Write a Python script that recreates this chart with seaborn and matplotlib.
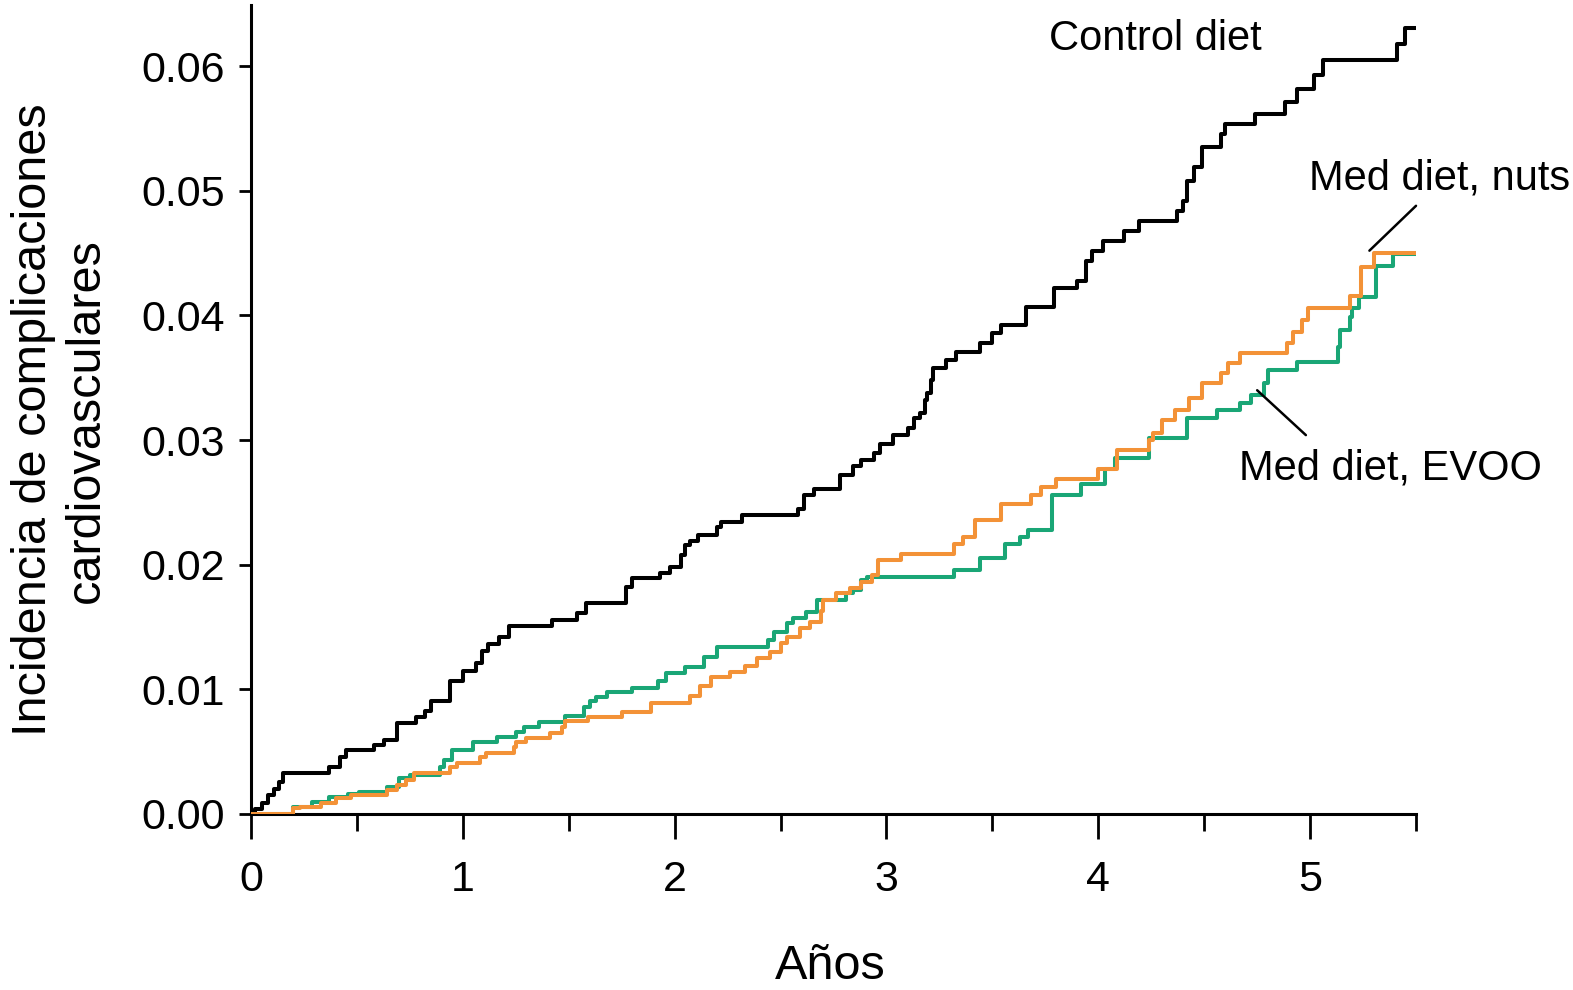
import pandas as pd
import matplotlib
matplotlib.use("Agg")
import matplotlib.pyplot as plt
from matplotlib.ticker import FixedLocator
import seaborn as sns

# step curves (time in years, cumulative incidence)
control_t = [0, 0.02, 0.05, 0.08, 0.11, 0.13, 0.15, 0.37, 0.42, 0.45, 0.58, 0.63, 0.69, 0.78,
             0.82, 0.85, 0.94, 1.00, 1.06, 1.09, 1.12, 1.17, 1.22, 1.42, 1.54, 1.58, 1.77, 1.80,
             1.93, 1.98, 2.03, 2.05, 2.07, 2.11, 2.20, 2.22, 2.32, 2.58, 2.61, 2.66, 2.78, 2.84,
             2.88, 2.94, 2.97, 3.03, 3.10, 3.13, 3.16, 3.18, 3.19, 3.21, 3.22, 3.28, 3.33, 3.44,
             3.50, 3.54, 3.66, 3.79, 3.90, 3.94, 3.97, 4.02, 4.12, 4.19, 4.37, 4.40, 4.42, 4.45,
             4.49, 4.58, 4.60, 4.74, 4.88, 4.94, 5.02, 5.06, 5.41, 5.45, 5.5]
control_v = [0, 0.0004, 0.0009, 0.0015, 0.0020, 0.0026, 0.0033, 0.0038, 0.0046, 0.0051, 0.0055,
             0.0059, 0.0073, 0.0078, 0.0083, 0.0091, 0.0107, 0.0115, 0.0121, 0.0131, 0.0136,
             0.0142, 0.0151, 0.0156, 0.0161, 0.0169, 0.0182, 0.0189, 0.0193, 0.0198, 0.0208,
             0.0216, 0.0219, 0.0224, 0.0230, 0.0234, 0.0240, 0.0245, 0.0256, 0.0261, 0.0272,
             0.0279, 0.0284, 0.0290, 0.0297, 0.0304, 0.0310, 0.0318, 0.0322, 0.0332, 0.0338,
             0.0348, 0.0358, 0.0364, 0.0371, 0.0378, 0.0386, 0.0392, 0.0407, 0.0422, 0.0428,
             0.0444, 0.0452, 0.0460, 0.0468, 0.0476, 0.0484, 0.0492, 0.0508, 0.0519, 0.0535,
             0.0546, 0.0554, 0.0562, 0.0571, 0.0582, 0.0593, 0.0605, 0.0618, 0.0631, 0.0631]

evoo_t = [0, 0.20, 0.29, 0.37, 0.46, 0.51, 0.64, 0.70, 0.75, 0.89, 0.91, 0.95, 1.05, 1.16, 1.25,
          1.29, 1.36, 1.48, 1.57, 1.60, 1.63, 1.68, 1.80, 1.92, 1.96, 2.05, 2.14, 2.20, 2.44,
          2.47, 2.53, 2.56, 2.62, 2.67, 2.81, 2.84, 2.88, 2.91, 3.32, 3.44, 3.56, 3.63, 3.67,
          3.78, 3.92, 4.03, 4.08, 4.24, 4.42, 4.56, 4.67, 4.72, 4.78, 4.80, 4.94, 5.13, 5.14,
          5.19, 5.20, 5.23, 5.31, 5.39, 5.5]
evoo_v = [0, 0.0006, 0.0010, 0.0014, 0.0016, 0.0018, 0.0022, 0.0029, 0.0031, 0.0038, 0.0043,
          0.0051, 0.0058, 0.0062, 0.0066, 0.0070, 0.0074, 0.0079, 0.0086, 0.0091, 0.0094,
          0.0098, 0.0101, 0.0107, 0.0113, 0.0118, 0.0126, 0.0134, 0.0140, 0.0146, 0.0153,
          0.0157, 0.0162, 0.0172, 0.0177, 0.0180, 0.0188, 0.0190, 0.0196, 0.0205, 0.0217,
          0.0222, 0.0228, 0.0256, 0.0265, 0.0277, 0.0286, 0.0302, 0.0318, 0.0324, 0.0330,
          0.0336, 0.0346, 0.0356, 0.0363, 0.0375, 0.0388, 0.0399, 0.0406, 0.0415, 0.0440,
          0.0449, 0.0449]

nuts_t = [0, 0.20, 0.23, 0.33, 0.40, 0.47, 0.64, 0.69, 0.73, 0.77, 0.94, 0.97, 1.08, 1.11, 1.24,
          1.25, 1.30, 1.41, 1.47, 1.48, 1.59, 1.75, 1.89, 2.07, 2.12, 2.17, 2.26, 2.33, 2.39,
          2.45, 2.50, 2.53, 2.59, 2.64, 2.69, 2.70, 2.76, 2.83, 2.88, 2.93, 2.96, 3.07, 3.32,
          3.36, 3.42, 3.54, 3.68, 3.73, 3.80, 4.00, 4.09, 4.24, 4.26, 4.30, 4.36, 4.43, 4.49,
          4.58, 4.61, 4.67, 4.89, 4.92, 4.96, 4.99, 5.19, 5.24, 5.30, 5.5]
nuts_v = [0, 0.0005, 0.0006, 0.0009, 0.0013, 0.0015, 0.0019, 0.0023, 0.0027, 0.0033, 0.0038,
          0.0041, 0.0046, 0.0049, 0.0054, 0.0058, 0.0061, 0.0065, 0.0070, 0.0075, 0.0078,
          0.0082, 0.0089, 0.0095, 0.0103, 0.0110, 0.0114, 0.0119, 0.0125, 0.0130, 0.0137,
          0.0142, 0.0149, 0.0154, 0.0163, 0.0172, 0.0177, 0.0181, 0.0186, 0.0192, 0.0204,
          0.0209, 0.0217, 0.0222, 0.0236, 0.0249, 0.0256, 0.0262, 0.0269, 0.0277, 0.0292,
          0.0300, 0.0306, 0.0316, 0.0324, 0.0334, 0.0346, 0.0354, 0.0362, 0.0370, 0.0378,
          0.0387, 0.0396, 0.0406, 0.0416, 0.0439, 0.0450, 0.0450]

groups = ["Control diet", "Med diet, EVOO", "Med diet, nuts"]
colors = {"Control diet": "#000000", "Med diet, EVOO": "#1aa676", "Med diet, nuts": "#f39237"}

df = pd.concat([
    pd.DataFrame({"t": control_t, "v": control_v, "grupo": groups[0]}),
    pd.DataFrame({"t": evoo_t, "v": evoo_v, "grupo": groups[1]}),
    pd.DataFrame({"t": nuts_t, "v": nuts_v, "grupo": groups[2]}),
])

sns.set_style("ticks")
plt.rcParams["font.family"] = ["Liberation Sans Narrow", "Liberation Sans", "DejaVu Sans"]
plt.rcParams["text.color"] = "black"
plt.rcParams["axes.labelcolor"] = "black"
plt.rcParams["xtick.color"] = "black"
plt.rcParams["ytick.color"] = "black"

fig = plt.figure(figsize=(15.73, 9.9), dpi=100)
ax = fig.add_axes([0.1596, 0.1778, 0.7406, 0.817])

for g in groups:
    sub = df[df["grupo"] == g]
    sns.lineplot(data=sub, x="t", y="v", ax=ax, color=colors[g], linewidth=2.9,
                 drawstyle="steps-post", estimator=None, legend=False, zorder=3)

ax.set_xlim(0, 5.5)
ax.set_ylim(0, 0.0649)
ax.set_xticks([0, 1, 2, 3, 4, 5])
ax.set_xticklabels(["0", "1", "2", "3", "4", "5"])
ax.xaxis.set_minor_locator(FixedLocator([0.5, 1.5, 2.5, 3.5, 4.5, 5.5]))
ax.set_yticks([0, 0.01, 0.02, 0.03, 0.04, 0.05, 0.06])
ax.set_yticklabels(["0.00", "0.01", "0.02", "0.03", "0.04", "0.05", "0.06"])

ax.tick_params(axis="x", which="major", length=18, width=2, labelsize=31, pad=15)
ax.tick_params(axis="x", which="minor", length=12, width=2)
ax.tick_params(axis="y", which="major", length=9, width=2, labelsize=31, pad=10)

for s in ["top", "right"]:
    ax.spines[s].set_visible(False)
for s in ["left", "bottom"]:
    ax.spines[s].set_linewidth(2.2)
    ax.spines[s].set_color("black")

ax.set_xlabel("Años", fontsize=35)
ax.xaxis.set_label_coords(0.497, -0.188)
ax.xaxis.label.set_va("center")
ax.set_ylabel("Incidencia de complicaciones\ncardiovasculares", fontsize=35, linespacing=1.25)
ax.yaxis.set_label_coords(-0.164, 0.487)
ax.yaxis.label.set_va("center")

# labels for each curve
ax.text(4.27, 0.0622, "Control diet", fontsize=30, ha="center", va="center")
ax.text(5.61, 0.0510, "Med diet, nuts", fontsize=30, ha="center", va="center", clip_on=False)
ax.plot([5.5, 5.28], [0.0488, 0.0452], color="black", linewidth=1.8, clip_on=False)
ax.text(5.38, 0.0277, "Med diet, EVOO", fontsize=30, ha="center", va="center", clip_on=False)
ax.plot([4.98, 4.75], [0.0304, 0.0340], color="black", linewidth=1.8, zorder=4)

fig.savefig("out.png", dpi=100)
